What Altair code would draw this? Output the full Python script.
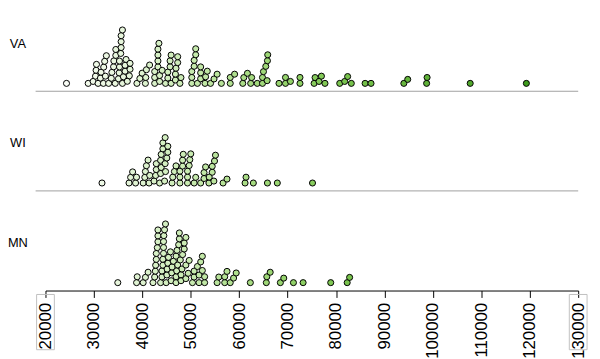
import altair as alt
import pandas as pd
import numpy as np

# ---- data (household income by state) ----
states = ["VA", "WI", "MN"]

va_values = [
    24340,
    28820, 29840, 30860, 31960, 33040, 30450, 31470, 32570, 33590,
    30330, 31350, 32370, 33710, 30530, 32020, 32220,
    34060, 35220, 36640, 34520, 35620, 36900, 35280, 36440, 37460, 34400, 35540, 37460,
    35070, 37310, 34520, 35890, 34120, 36090, 35620, 35280, 35620, 35890, 36440,
    38880, 39490, 39960, 40630, 40710, 40840, 41500,
    42550, 42550, 42550, 43220, 43220, 43220, 43220, 43420, 43570, 43570, 44100, 44790,
    45260, 45260, 45730, 45730, 45940, 45940, 46830, 46830, 46950, 47300, 47300, 47760, 47970,
    50210, 50210, 50210, 50700, 50700, 51020, 51020, 51370, 52040, 52040, 52040, 52940,
    53060, 53410, 54080,
    54800, 55440, 56320, 58150, 58150, 59050,
    60740, 60950, 61700, 62370, 62570,
    63730, 64810, 64810, 65010, 65490, 65770, 65830, 65890,
    68220, 69560, 69560, 70580, 72550, 72550,
    75470, 75670, 76490, 76980, 77710,
    80760, 81780, 82390, 83150, 86000, 87220, 94000, 94800, 98700, 98800, 107700, 119300,
]

wi_values = [
    31670,
    37580, 37250, 38600, 37990, 38800,
    40630, 40840, 41180, 40170, 41390, 40510, 41530,
    43890, 45050, 42410, 43890, 42880, 44590, 43570, 44710, 43770, 44710, 42750, 43770,
    44790, 42880, 44240, 45260, 44240, 45260, 46280,
    48450, 49330, 46620, 48310, 49800, 46950, 48310, 50000, 47760, 49330, 50700, 46130,
    47760, 49330, 51020, 47760, 49670,
    53810, 54900, 54430, 52740, 54770, 52740, 55100, 53060, 54430, 52040, 53750,
    56670, 57480,
    61210, 61410, 62920, 65830, 67870, 75140,
]

mn_values = [
    34930,
    45120, 45060, 47160, 44440, 47300, 44240, 46960, 44920, 46960,
    42880, 44380, 47090, 42750, 43770, 47640, 43220, 44780, 47840, 48310,
    42540, 44380, 45940, 48650, 51370, 44040, 47640, 48990, 52390,
    42680, 44580, 46070, 47980, 48990, 51710, 43220, 45260, 46960, 48990, 50350, 52050,
    42880, 44240, 45800, 48180, 49470, 50690, 52390,
    38810, 40640, 43090, 44040, 46140, 47980, 50690, 52860,
    38940, 40170, 41190, 42200, 43220, 44380, 45400, 46410, 47500, 48650, 49670, 51710,
    52860, 55440,
    55790, 57010, 58150, 57010, 59380, 57480, 58840,
    62300, 65600, 65700, 66400, 68500, 69200, 71200, 73200, 78900, 82300, 82800,
]

tick_values = list(range(20000, 130001, 10000))
boxed_ticks = [20000, 130000]

# ---- layout constants ----
X_MIN, X_MAX = 20000, 130000
W, H = 540, 284
PX_PER_UNIT = W / (X_MAX - X_MIN)
DX = 5.3       # horizontal spacing of touching dots, px
DY = 6.0       # vertical spacing of stacked dots, px
PANEL = 101    # distance between panel baselines, px
ROW0 = 8       # first row above baseline, px


def swarm(values):
    """one-sided beeswarm, ascending priority; offsets in px"""
    placed = []
    out = []
    for v in sorted(values):
        x = (v - X_MIN) * PX_PER_UNIT
        near = [(px, py) for px, py in placed if abs(px - x) < DX]
        cands = sorted([0.0] + [py + DY * np.sqrt(1 - ((px - x) / DX) ** 2) for px, py in near])
        y = cands[-1]
        for c in cands:
            if all(((px - x) / DX) ** 2 + ((py - c) / DY) ** 2 >= 1 - 1e-6 for px, py in near):
                y = c
                break
        placed.append((x, y))
        out.append((v, y))
    return out


rows = []
for i, (st, vals) in enumerate(zip(states, [va_values, wi_values, mn_values])):
    base = (len(states) - 1 - i) * PANEL
    for v, off in swarm(vals):
        rows.append({"state": st, "value": v, "y": base + ROW0 + off})
df = pd.DataFrame(rows)

labels = pd.DataFrame({
    "state": states,
    "y": [(len(states) - 1 - i) * PANEL + 48 for i in range(len(states))],
})
lines = pd.DataFrame({"y": [(len(states) - 1 - i) * PANEL for i in range(len(states) - 1)]})
boxes = pd.DataFrame({"value": boxed_ticks})

xscale = alt.Scale(domain=[X_MIN, X_MAX], nice=False, zero=False)
yscale = alt.Scale(domain=[0, H], nice=False, zero=False)

points = alt.Chart(df).mark_circle(size=38, stroke="black", strokeWidth=1, opacity=1).encode(
    x=alt.X("value:Q", scale=xscale, title=None,
            axis=alt.Axis(values=tick_values, format="d", labelAngle=270, labelAlign="right",
                          labelBaseline="middle", labelPadding=5, tickSize=7, grid=False,
                          domainColor="black", tickColor="black", labelColor="black",
                          labelFont="Liberation Sans", labelFontSize=17, labelFlush=False,
                          labelOverlap=False, domainWidth=1, tickWidth=1)),
    y=alt.Y("y:Q", scale=yscale, axis=None),
    color=alt.Color("value:Q", legend=None,
                    scale=alt.Scale(domain=[24000, 38000, 50000, 65000, 80000, 120000],
                                    range=["#fafdf7", "#e2f4d6", "#c8eab0", "#9fd878", "#7cc650", "#3c9a1a"])),
)

rules = alt.Chart(lines).mark_rule(color="#a0a0a0", strokeWidth=1).encode(
    y=alt.Y("y:Q", scale=yscale, axis=None),
    x=alt.value(-10), x2=alt.value(W),
)

text = alt.Chart(labels).mark_text(font="Liberation Sans", fontSize=13, color="black",
                                   align="center", baseline="middle").encode(
    y=alt.Y("y:Q", scale=yscale, axis=None),
    x=alt.value(-28),
    text="state:N",
)

box = alt.Chart(boxes).mark_rect(xOffset=-9, x2Offset=9, fillOpacity=0, stroke="#c0c0c0",
                                 strokeWidth=1).encode(
    x=alt.X("value:Q", scale=xscale),
    x2="value:Q",
    y=alt.value(288), y2=alt.value(344),
)

chart = alt.layer(rules, box, points, text).properties(
    width=W, height=H,
    autosize=alt.AutoSizeParams(type="none"),
    padding={"left": 38, "top": 0, "right": 14, "bottom": 67},
).configure_view(stroke=None)

chart.save("out.html", embed_options={"renderer": "svg", "actions": False})
